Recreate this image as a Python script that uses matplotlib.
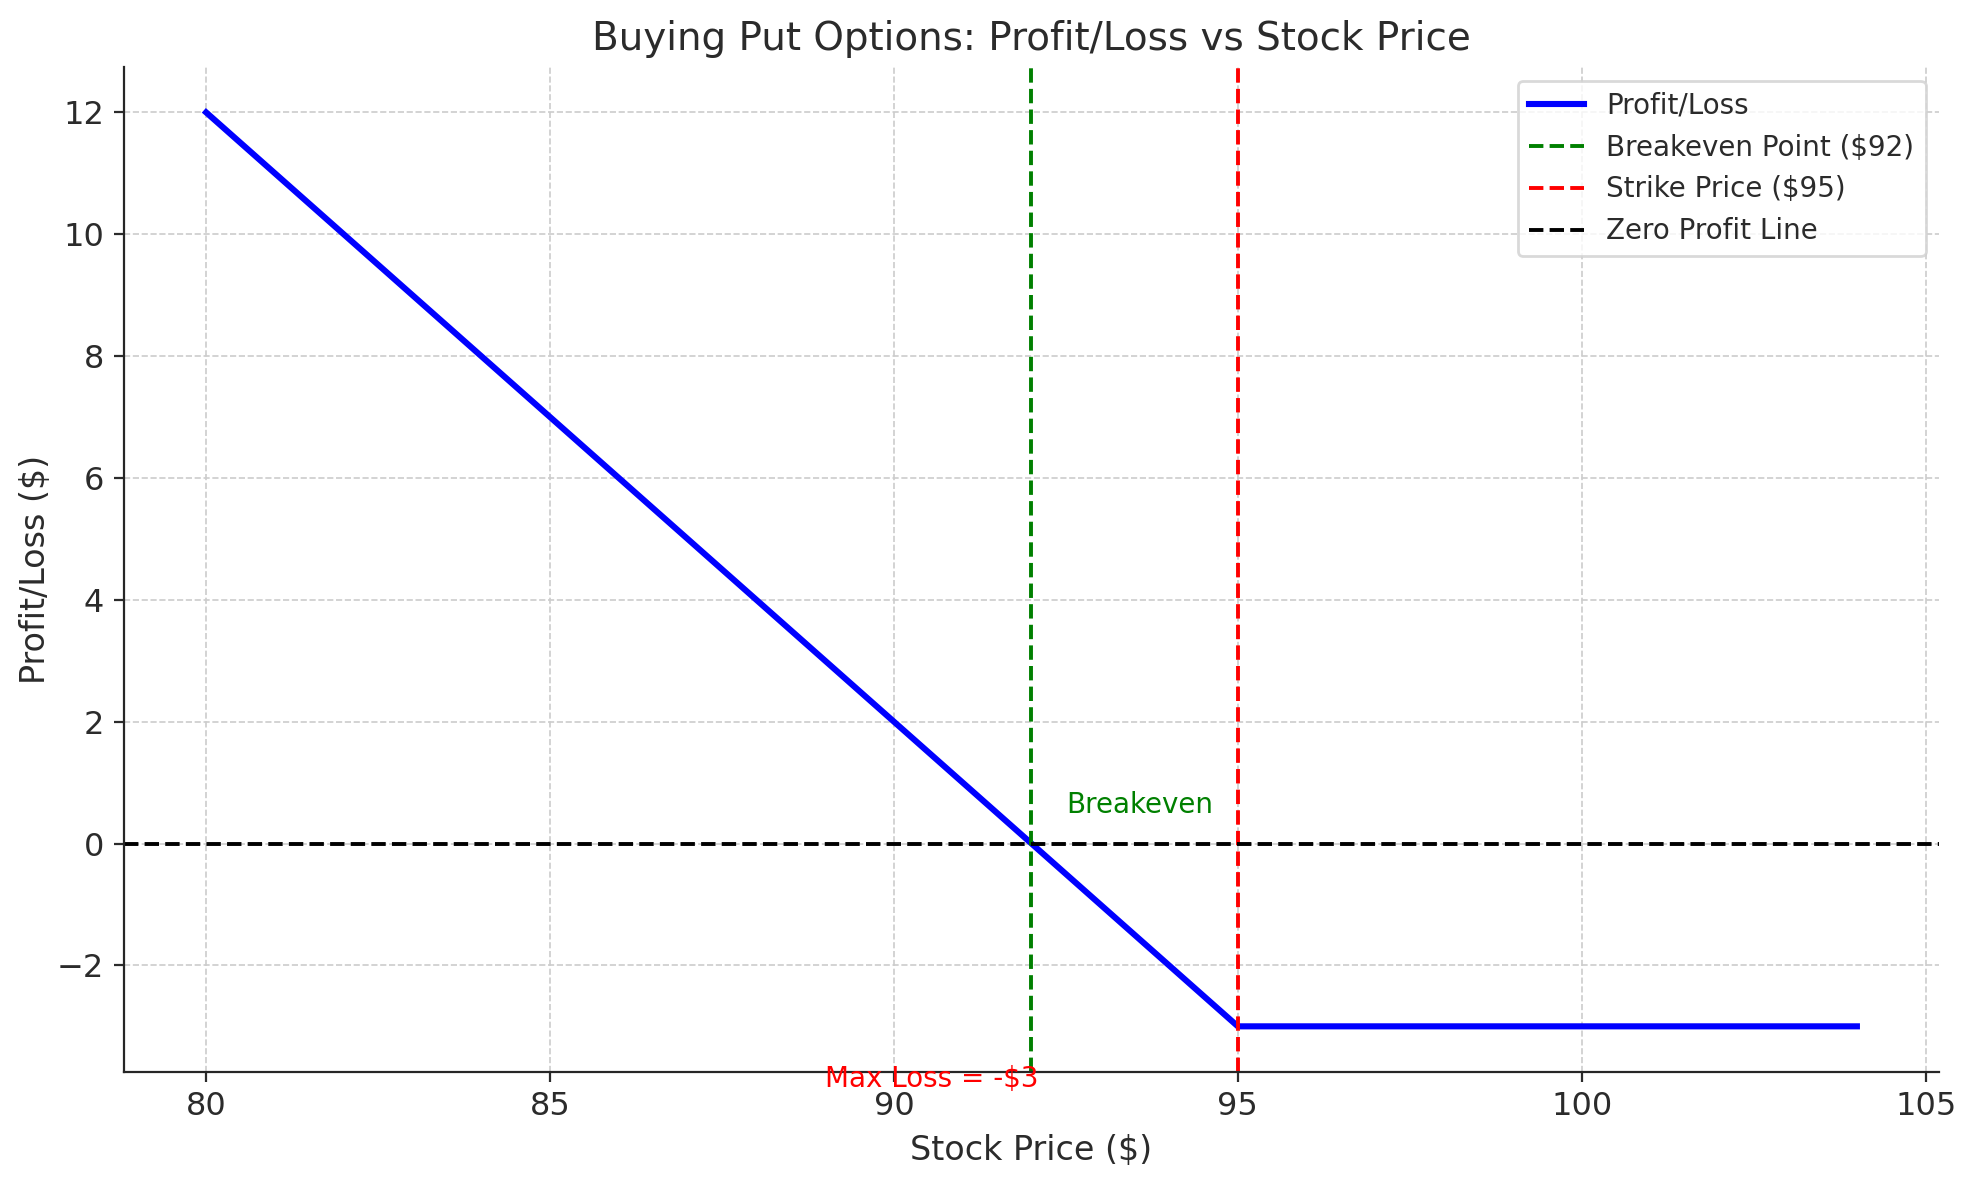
import numpy as np
import matplotlib.pyplot as plt

plt.rcParams['text.color'] = '#2b2b2b'
plt.rcParams['axes.labelcolor'] = '#2b2b2b'
plt.rcParams['xtick.color'] = '#2b2b2b'
plt.rcParams['ytick.color'] = '#2b2b2b'
plt.rcParams['axes.edgecolor'] = '#262626'

# option data
strike = 95
premium = 3
breakeven = strike - premium
stock_prices = np.arange(80, 105, 1)
profit_loss = np.maximum(strike - stock_prices, 0) - premium

fig, ax = plt.subplots(figsize=(9.885, 5.9), dpi=200)
fig.subplots_adjust(left=0.0625, right=0.981, top=0.9435, bottom=0.0915)

ax.plot(stock_prices, profit_loss, label='Profit/Loss', color='blue', linewidth=2.2)
ax.axvline(breakeven, color='green', linestyle='--', linewidth=1.4, label='Breakeven Point ($92)')
ax.axvline(strike, color='red', linestyle='--', linewidth=1.4, label='Strike Price ($95)')
ax.axhline(0, color='black', linestyle='--', linewidth=1.4, label='Zero Profit Line')

ax.text(breakeven + 0.5, 0.5, 'Breakeven', color='green', fontsize=10)
ax.text(breakeven + 0.1, -premium - 1, 'Max Loss = -$3', color='red', fontsize=10, ha='right')

ax.set_title('Buying Put Options: Profit/Loss vs Stock Price', fontsize=14)
ax.set_xlabel('Stock Price ($)', fontsize=12)
ax.set_ylabel('Profit/Loss ($)', fontsize=12, labelpad=1.8)
ax.tick_params(labelsize=11.5)

ax.grid(True, linestyle='--', color='#cccccc', linewidth=0.6)
ax.spines['top'].set_visible(False)
ax.spines['right'].set_visible(False)
leg = ax.legend(fontsize=10, loc='upper right')
leg.get_frame().set_edgecolor('#d0d0d0')

plt.savefig('out.png', dpi=200)
